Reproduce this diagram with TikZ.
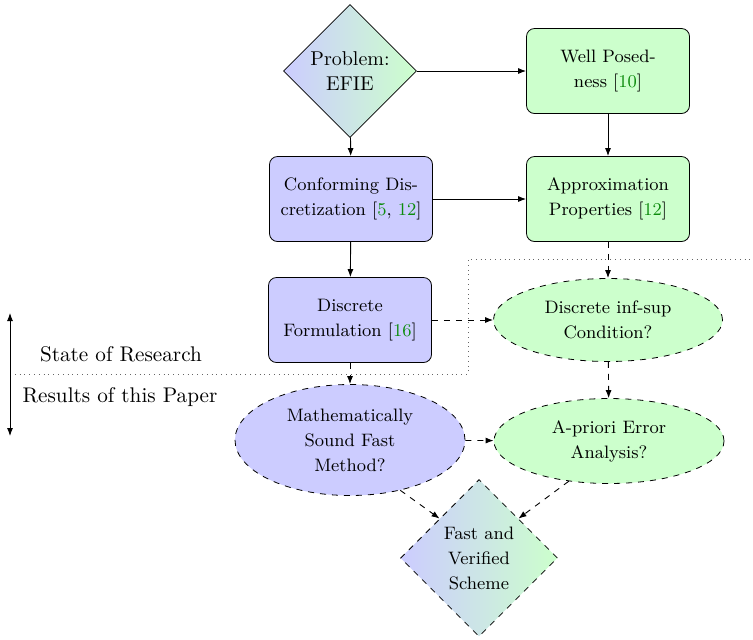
\documentclass[tikz,border=0pt]{standalone}
\usetikzlibrary{shapes.geometric,arrows.meta}
\definecolor{citegreen}{rgb}{0.05,0.55,0.05}
\definecolor{bluefill}{RGB}{204,204,255}
\definecolor{greenfill}{RGB}{204,255,204}
\newcommand{\cit}[1]{\textcolor{citegreen}{#1}}
\begin{document}
\begin{tikzpicture}[x=0.5pt,y=-0.5pt,
  every node/.style={font=\fontsize{9}{12.5}\selectfont, align=center},
  boxnode/.style={draw, rounded corners=4pt, minimum width=81.5pt, minimum height=42.5pt, inner sep=0pt},
  bluebox/.style={boxnode, fill=bluefill},
  greenbox/.style={boxnode, fill=greenfill},
  ellnode/.style={draw, dashed, ellipse, inner sep=0pt},
  dia/.style={draw, diamond, aspect=1, inner sep=0pt, left color=bluefill, right color=greenfill},
  arr/.style={-{Latex[length=4pt,width=3pt]}, line width=0.45pt},
  darr/.style={arr, dashed},
  sidelabel/.style={font=\fontsize{10.6}{12.5}\selectfont}
]
\useasboundingbox (0,0) rectangle (753,639);
% nodes
\node[dia, minimum width=66.5pt, minimum height=66.5pt, font=\fontsize{10}{12.5}\selectfont] (P) at (350,71) {Problem:\\EFIE};
\node[greenbox] (W) at (608,71) {Well Posed-\\ness [\cit{10}]};
\node[bluebox] (C) at (351,199) {Conforming Dis-\\cretization [\cit{5}, \cit{12}]};
\node[greenbox] (A) at (608,199) {Approximation\\Properties [\cit{12}]};
\node[bluebox] (D) at (350,320) {Discrete\\Formulation [\cit{16}]};
\node[ellnode, fill=greenfill, minimum width=114.5pt, minimum height=41.5pt] (I) at (608,320) {Discrete inf-sup\\Condition?};
\node[ellnode, fill=bluefill, minimum width=115pt, minimum height=55.5pt] (M) at (350,440) {Mathematically\\Sound Fast\\Method?};
\node[ellnode, fill=greenfill, minimum width=115pt, minimum height=42.5pt] (E) at (609,441) {A-priori Error\\Analysis?};
\node[dia, dashed, minimum width=78.5pt, minimum height=78.5pt] (F) at (479,558) {Fast and\\Verified\\Scheme};
% side labels
\node[sidelabel] (SR) at (121,354) {State of Research};
\node[sidelabel] (RP) at (120,397) {Results of this Paper};
% connectors
\draw[arr] (P) -- (W);
\draw[arr] (P) -- (C);
\draw[arr] (W) -- (A);
\draw[arr] (C) -- (A);
\draw[arr] (C) -- (D);
\draw[darr] (A) -- (I);
\draw[darr] (D) -- (I);
\draw[darr] (D) -- (M);
\draw[darr] (I) -- (E);
\draw[darr] (M) -- (E);
\draw[darr] (M.-45) -- (F.north west);
\draw[darr] (E.-135) -- (F.north east);
% divider
\coordinate (d1) at (10,374);
\coordinate (d2) at (468,374);
\coordinate (d3) at (468,259);
\coordinate (d4) at (753,259);
\draw[dotted, gray!80!black, line width=0.4pt] (d1) -- (d2) -- (d3) -- (d4);
\coordinate (v1) at (10,313);
\coordinate (v2) at (10,436);
\draw[{Latex[length=4pt,width=3pt]}-{Latex[length=4pt,width=3pt]}, line width=0.45pt] (v1) -- (v2);
\end{tikzpicture}
\end{document}
